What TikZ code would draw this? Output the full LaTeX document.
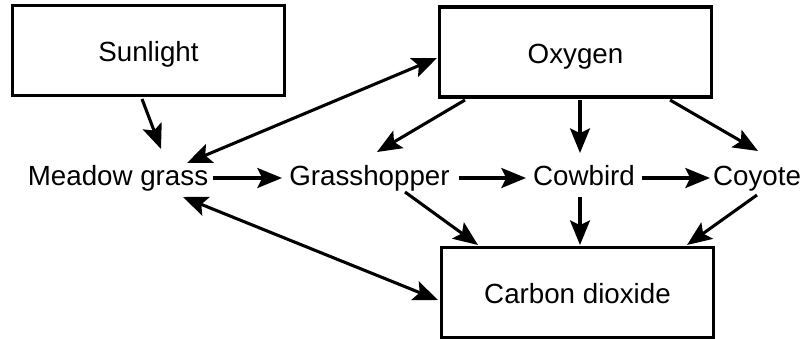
\documentclass[tikz,border=0pt]{standalone}
\usepackage{fontspec}
\setmainfont{Liberation Sans}
\usetikzlibrary{positioning,arrows.meta}

\begin{document}
\begin{tikzpicture}[x=0.75pt,y=-0.75pt,
    every node/.style={font=\fontsize{20.8}{25}\selectfont},
    sbox/.style={draw,line width=2.4pt,minimum width=204pt,minimum height=67.5pt,inner sep=0pt,text height=20pt,text depth=3.5pt},
    organism/.style={text height=15pt,text depth=4.5pt,inner xsep=4.5pt,inner ysep=3pt},
    flow/.style={line width=2.3pt,-{Stealth[length=18.5pt,width=15pt,inset=3.7pt]}},
    bothflow/.style={line width=2.3pt,{Stealth[length=18.5pt,width=15pt,inset=3.7pt]}-{Stealth[length=18.5pt,width=15pt,inset=3.7pt]}}]
  \useasboundingbox (0,0) rectangle (804,339);
  % the three boxes
  \node[sbox] (sun) at (148.5,50.5) {Sunlight};
  \node[sbox] (oxy) at (575.5,52) {Oxygen};
  \node[sbox] (co2) at (577.5,292.5) {Carbon dioxide};
  % the food chain
  \node[organism] (meadow) at (118,178) {Meadow grass};
  \node[organism] (grass) at (369.5,178) {Grasshopper};
  \node[organism] (cow) at (584,178) {Cowbird};
  \node[organism] (coyote) at (757,178) {Coyote};
  % arrows
  \draw[flow] ([shift={(-6.5,48.5)}]sun.center) -- ([shift={(43,-29)}]meadow.center);
  \draw[bothflow] ([shift={(69,-15)}]meadow.center) -- ([shift={(-138.5,6)}]oxy.center);
  \draw[bothflow] ([shift={(65,19)}]meadow.center) -- ([shift={(-139.5,7.5)}]co2.center);
  \draw[flow] ([shift={(95,0)}]meadow.center) -- ([shift={(-87.5,0)}]grass.center);
  \draw[flow] ([shift={(89.5,0)}]grass.center) -- ([shift={(-58,0)}]cow.center);
  \draw[flow] ([shift={(58,0)}]cow.center) -- ([shift={(-47,0)}]coyote.center);
  \draw[flow] ([shift={(-110.5,48)}]oxy.center) -- ([shift={(7.5,-26)}]grass.center);
  \draw[flow] ([shift={(4.5,48)}]oxy.center) -- ([shift={(-4,-25)}]cow.center);
  \draw[flow] ([shift={(94.5,48)}]oxy.center) -- ([shift={(1,-27)}]coyote.center);
  \draw[flow] ([shift={(35.5,14)}]grass.center) -- ([shift={(-99.5,-47.5)}]co2.center);
  \draw[flow] ([shift={(-4,19)}]cow.center) -- ([shift={(2.5,-47.5)}]co2.center);
  \draw[flow] ([shift={(0,17)}]coyote.center) -- ([shift={(109.5,-47.5)}]co2.center);
\end{tikzpicture}
\end{document}
